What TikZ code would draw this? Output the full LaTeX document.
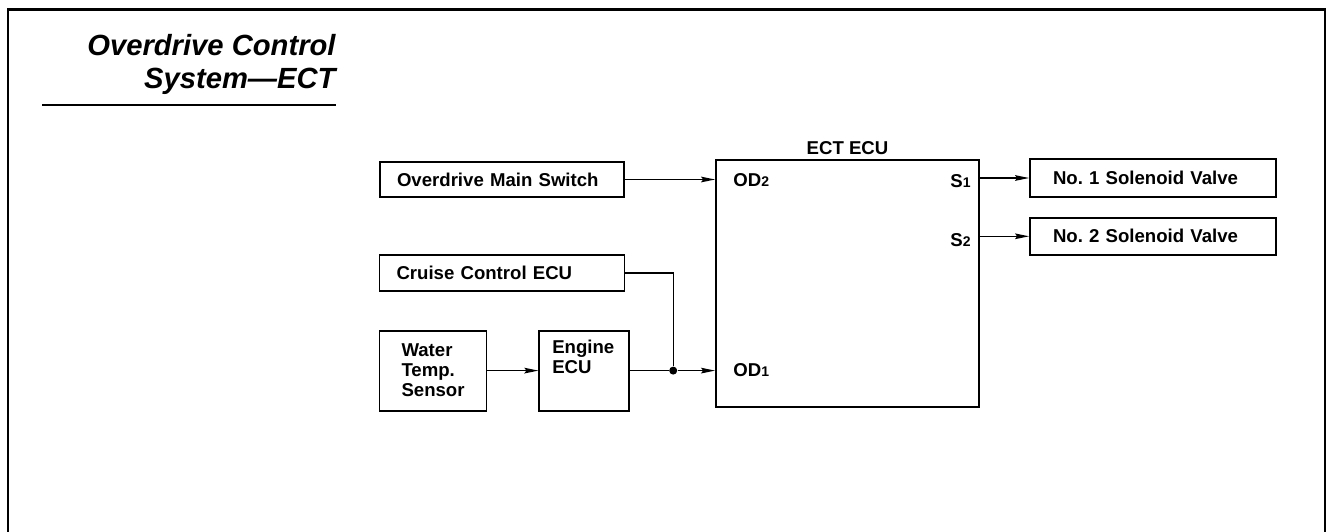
\documentclass[tikz,border=0pt]{standalone}
\usepackage{fontspec}
\setmainfont{Liberation Sans}
\usetikzlibrary{arrows.meta, positioning}

\newcommand{\portsub}[1]{{\fontsize{7}{8}\selectfont #1}}

\begin{document}
\frenchspacing
\begin{tikzpicture}[x=0.5pt, y=-0.5pt, node distance=10pt,
    box/.style={draw, line width=0.9pt, inner ysep=0pt, align=left, font=\fontsize{9.3}{10}\selectfont\bfseries},
    lbl/.style={inner sep=0pt, font=\fontsize{9.3}{10}\selectfont\bfseries},
    sig/.style={-{Stealth[length=7pt, width=2.8pt, inset=1pt]}, line width=0.7pt}]
    \useasboundingbox (0,0) rectangle (1327,531);

    % Page frame and heading
    \draw[line width=1.1pt] (8,540) -- (8,9.5) -- (1325,9.5) -- (1325,540);
    \node (title) [anchor=base east, align=right, inner sep=0pt, font=\fontsize{14.6}{16.5}\selectfont\bfseries\itshape] at (336,88) {Overdrive Control\\System—ECT};
    \draw[line width=0.6pt] (42,105) -- (336,105);

    % Inputs
    \node (omsw) [box, text width=105pt, inner xsep=8.5pt, minimum height=17.5pt] at (502,179.5) {Overdrive Main Switch};
    \node (cruise) [box, text width=105.5pt, inner xsep=8.5pt, minimum height=18pt, below=28pt of omsw] {Cruise Control ECU};
    \node (water) [box, text width=31.5pt, inner xsep=11pt, minimum height=40pt, below=19pt of cruise.south west, anchor=north west] {Water\\Temp.\\Sensor};
    \node (engine) [box, text width=32pt, inner xsep=6.5pt, inner ysep=4.3pt, text height=7pt, text depth=24.4pt, right=25.5pt of water] {Engine\\ECU};
    \node (jn) [circle, fill, inner sep=0pt, minimum size=4pt] at ([xshift=21.5pt]engine.east) {};

    % ECT ECU and its ports
    \node (ect) [draw, line width=0.9pt, minimum width=131.5pt, minimum height=123.5pt] at (847.5,283.5) {};
    \node (ecttitle) [lbl, anchor=base] at ([yshift=2.5pt]ect.north) {ECT ECU};
    \node (od2) [lbl, anchor=base west] at (733,186) {OD\portsub{2}};
    \node (od1) [lbl, anchor=base west] at (733,376) {OD\portsub{1}};
    \node (s1) [lbl, anchor=base east] at (971,187) {S\portsub{1}};
    \node (s2) [lbl, anchor=base east] at (971,246) {S\portsub{2}};

    % Outputs
    \node (sv1) [box, text width=100pt, inner xsep=11.5pt, minimum height=19pt] at (1153,178) {No. 1 Solenoid Valve};
    \node (sv2) [box, text width=100pt, inner xsep=11.5pt, minimum height=18.5pt, below=9.5pt of sv1] {No. 2 Solenoid Valve};

    % Signal lines
    \draw[sig] (omsw) -- (omsw -| ect.west);
    \draw[sig] (water) -- (engine);
    \draw[line width=0.7pt] (engine.east) -- (jn);
    \draw[line width=0.7pt] (cruise.east) -| (jn);
    \draw[sig] (jn) -- (jn -| ect.west);
    \draw[sig] (ect.east |- sv1) -- (sv1);
    \draw[sig] (ect.east |- sv2) -- (sv2);
\end{tikzpicture}
\end{document}
